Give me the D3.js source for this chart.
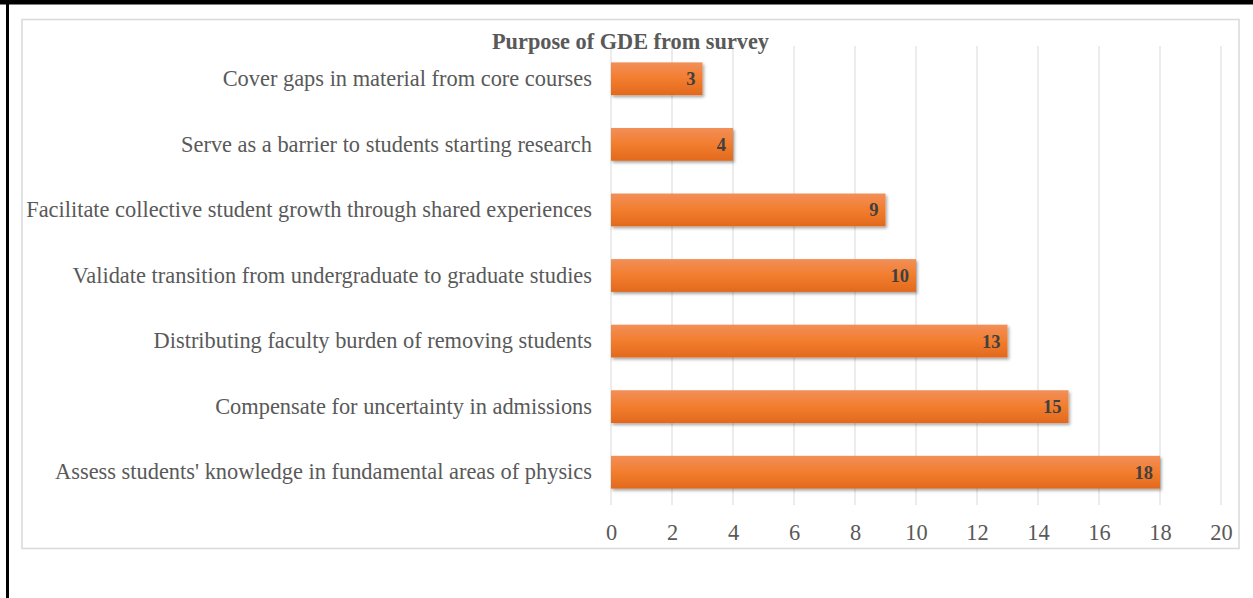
<!DOCTYPE html>
<html><head><meta charset="utf-8">
<script src="https://cdn.jsdelivr.net/npm/d3@7"></script>
<style>
html,body{margin:0;padding:0;background:#fff;}
svg{display:block;font-family:"Liberation Serif","Times New Roman",serif;}
</style></head>
<body>
<svg id="c" width="1253" height="598"></svg>
<script>
const categories = [
  "Cover gaps in material from core courses",
  "Serve as a barrier to students starting research",
  "Facilitate collective student growth through shared experiences",
  "Validate transition from undergraduate to graduate studies",
  "Distributing faculty burden of removing students",
  "Compensate for uncertainty in admissions",
  "Assess students' knowledge in fundamental areas of physics"
];
const values = [3, 4, 9, 10, 13, 15, 18];
const xTicks = [0, 2, 4, 6, 8, 10, 12, 14, 16, 18, 20];
const title = "Purpose of GDE from survey";

const svg = d3.select("#c");
const defs = svg.append("defs");
const grad = defs.append("linearGradient").attr("id","g").attr("x1",0).attr("y1",0).attr("x2",0).attr("y2",1);
grad.append("stop").attr("offset","0%").attr("stop-color","#f28f58");
grad.append("stop").attr("offset","50%").attr("stop-color","#f27d2e");
grad.append("stop").attr("offset","100%").attr("stop-color","#e2691d");
const f = defs.append("filter").attr("id","sh").attr("x","-5%").attr("y","-20%").attr("width","110%").attr("height","160%");
f.append("feDropShadow").attr("dx",1.5).attr("dy",2).attr("stdDeviation",1.5).attr("flood-color","#000").attr("flood-opacity",0.35);

// outer black border (top and left)
svg.append("rect").attr("x",0).attr("y",0).attr("width",1253).attr("height",4.5).attr("fill","#000");
svg.append("rect").attr("x",6).attr("y",0).attr("width",3).attr("height",598).attr("fill","#000");

// chart area border
svg.append("rect").attr("x",22).attr("y",19.5).attr("width",1217).attr("height",529)
  .attr("fill","#fff").attr("stroke","#d9d9d9").attr("stroke-width",1.5);

const x = d3.scaleLinear().domain([0,20]).range([611,1221]);
const y = d3.scaleBand().domain(categories).range([46,505]).paddingInner(0.5).paddingOuter(0.25);

// gridlines
svg.append("g").selectAll("line").data(xTicks).join("line")
  .attr("x1",d=>x(d)).attr("x2",d=>x(d)).attr("y1",46).attr("y2",505)
  .attr("stroke","#d9d9d9").attr("stroke-width",1);

// x axis labels
const xAxis = d3.axisBottom(x).tickValues(xTicks).tickSize(0).tickPadding(0);
const gx = svg.append("g").attr("transform","translate(0,505)").call(xAxis);
gx.select(".domain").remove();
gx.selectAll("text").attr("font-size",22.4).attr("fill","#595959").attr("y",0).attr("dy","35px")
  .style("font-family","Liberation Serif, serif");

// y axis labels
const yAxis = d3.axisLeft(y).tickSize(0).tickPadding(19);
const gy = svg.append("g").attr("transform","translate(611,0)").call(yAxis);
gy.select(".domain").remove();
gy.selectAll("text").attr("font-size",22.4).attr("fill","#595959")
  .style("font-family","Liberation Serif, serif");

// bars
svg.append("g").selectAll("rect").data(values).join("rect")
  .attr("x",x(0)).attr("y",(d,i)=>y(categories[i]))
  .attr("width",d=>x(d)-x(0)).attr("height",y.bandwidth())
  .attr("fill","url(#g)").attr("filter","url(#sh)");

// data labels
svg.append("g").selectAll("text").data(values).join("text")
  .attr("x",d=>x(d)-7).attr("y",(d,i)=>y(categories[i])+y.bandwidth()/2)
  .attr("dy","0.35em").attr("text-anchor","end")
  .attr("font-size",18.5).attr("font-weight","bold").attr("fill","#404040")
  .text(d=>d);

// title
svg.append("text").attr("x",630.5).attr("y",49).attr("text-anchor","middle")
  .attr("font-size",22.3).attr("font-weight","bold").attr("fill","#595959").text(title);
</script>
</body></html>
